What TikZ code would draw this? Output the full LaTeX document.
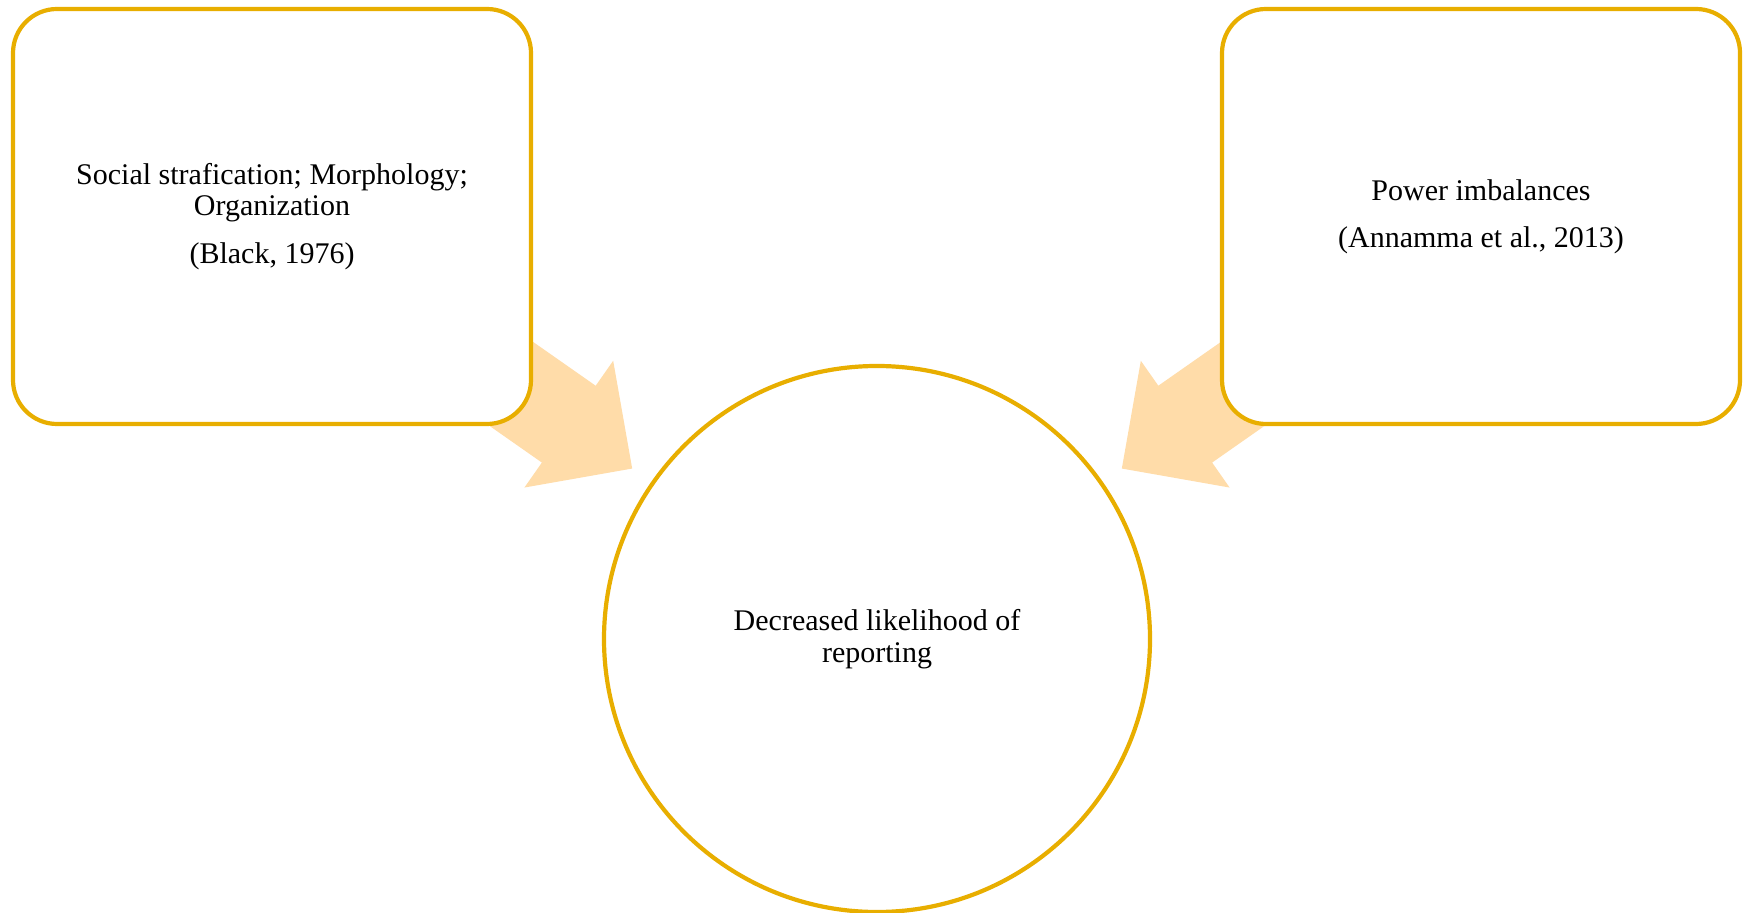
\documentclass[tikz,border=0pt]{standalone}
\usepackage{fontspec}
\setmainfont{Liberation Serif}
\usetikzlibrary{shapes.arrows}
\definecolor{gold}{HTML}{E8AE00}
\definecolor{peach}{HTML}{FFDCA9}

\begin{document}
\begin{tikzpicture}[x=0.5pt,y=-0.5pt,
factor/.style={draw=gold,line width=2.1pt,fill=white,rounded corners=22pt,minimum width=259pt,minimum height=207.5pt,align=center,font=\fontsize{15}{15.5}\selectfont},
outcome/.style={circle,draw=gold,line width=2.1pt,fill=white,minimum size=273pt,align=center,font=\fontsize{15}{16}\selectfont},
push/.style={single arrow,fill=peach,draw=none,inner xsep=0pt,inner ysep=23.25pt,minimum height=113.5pt,single arrow head extend=15.25pt,single arrow tip angle=90},
]
	\useasboundingbox (0,0) rectangle (1743,913);
	% arrows first, the boxes hide their tails
	\node[push,rotate=-35] (pushL) at (520,390) {};
	\node[push,rotate=-145] (pushR) at (1234,390) {};
	\node[factor] (strat) at (272,216.5) {Social strafication; Morphology;\\Organization\\[8.5pt](Black, 1976)};
	\node[factor] (power) at (1481,216.5) {Power imbalances\\[8pt](Annamma et al., 2013)};
	\node[outcome] (report) at (877,639) {Decreased likelihood of\\reporting};
\end{tikzpicture}
\end{document}
